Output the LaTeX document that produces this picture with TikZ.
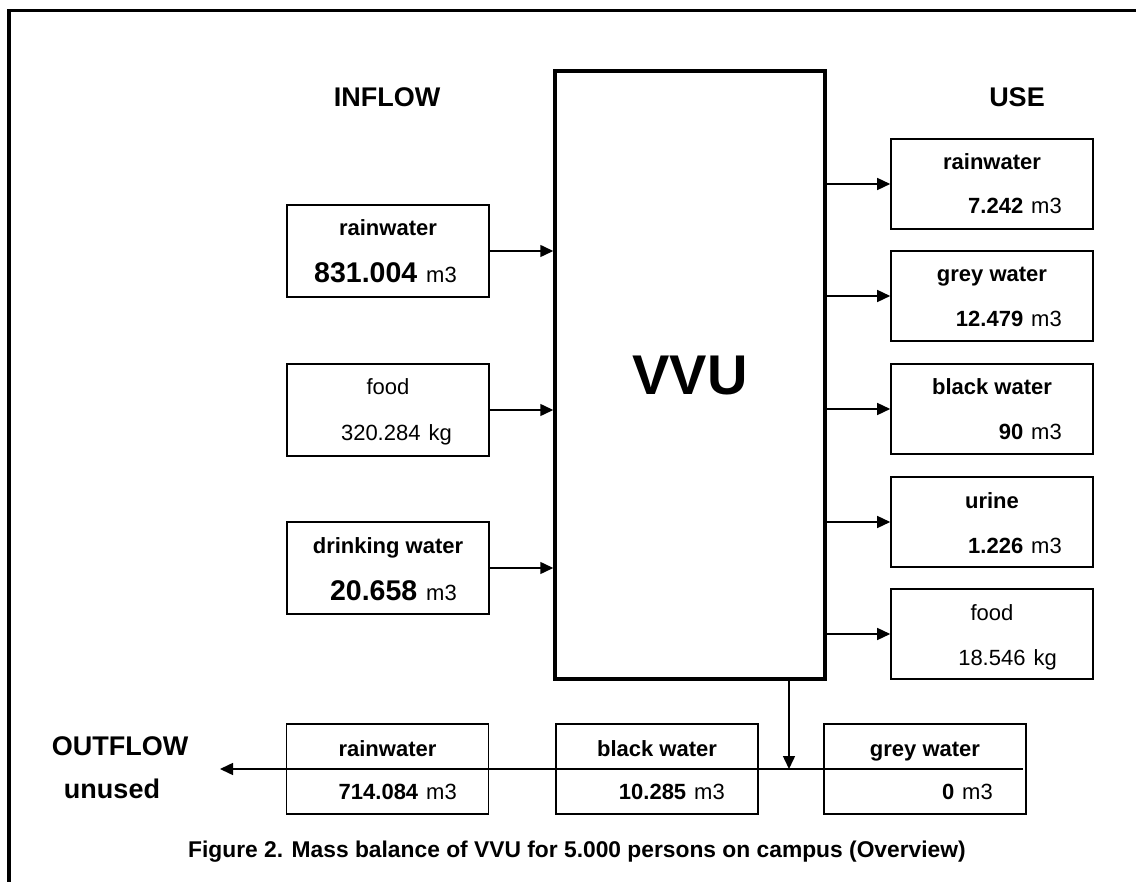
\documentclass[tikz,border=0pt]{standalone}
\usepackage{fontspec}
\setmainfont{Liberation Sans}
\usetikzlibrary{arrows.meta}
\newcommand\szA{\fontsize{22}{26}\selectfont}
\newcommand\szB{\fontsize{28.5}{32}\selectfont}
\newcommand\szH{\fontsize{27}{31}\selectfont}
\begin{document}
\begin{tikzpicture}[x=1pt,y=-1pt,
  box/.style={draw, line width=1.6pt, minimum width=202pt, inner sep=0pt},
  ttl/.style={inner sep=0pt, anchor=base, font=\szA\bfseries},
  ttr/.style={inner sep=0pt, anchor=base, font=\szA},
  val/.style={inner sep=0pt, anchor=base east, font=\szA},
  head/.style={inner sep=0pt, anchor=base, font=\szH\bfseries},
  flow/.style={line width=1.5pt, -{Triangle[length=13pt,width=12pt]}}]
\useasboundingbox (0,0) rectangle (1136,882);
% frame
\draw[line width=3.3pt, line join=miter] (9,884) -- (9,10.8) -- (1138,10.8);
% central box
\node[draw, line width=3.5pt, minimum width=270pt, minimum height=608pt, inner sep=0pt] (vvu) at (690,375) {};
\node[inner sep=0pt, anchor=base, font=\fontsize{56}{60}\selectfont\bfseries] (vvuT) at (690,395) {VVU};
% headings
\node[head] (inflow) at (387,107) {INFLOW};
\node[head] (use) at (1017,107) {USE};
\node[head] (outflow) at (120,755) {OUTFLOW};
\node[head] (unused) at (112,798) {unused};
% inflow boxes
\node[box, minimum height=92pt] (inrain) at (388,251) {};
\node[ttl] (inrainT) at (388,236) {rainwater};
\node[val] (inrainV) at (457,283) {\szB\bfseries 831.004\hspace{9pt}\szA\mdseries m3};
\node[box, minimum height=92pt] (infood) at (388,410) {};
\node[ttr] (infoodT) at (388,395) {food};
\node[val] (infoodV) at (452,441) {320.284\hspace{8pt}kg};
\node[box, minimum height=92pt] (indrink) at (388,568) {};
\node[ttl] (indrinkT) at (388,553) {drinking water};
\node[val] (indrinkV) at (457,600) {\szB\bfseries 20.658\hspace{9pt}\szA\mdseries m3};
\foreach \n in {inrain,infood,indrink}
  \draw[flow] (\n.east) -- (\n.east -| vvu.west);
% use boxes
\node[box, minimum height=90pt] (urain) at (992,184) {};
\node[ttl] (urainT) at (992,170) {rainwater};
\node[val] (urainV) at (1062,214) {\bfseries 7.242\hspace{8pt}\mdseries m3};
\node[box, minimum height=90pt] (ugrey) at (992,296) {};
\node[ttl] (ugreyT) at (992,282) {grey water};
\node[val] (ugreyV) at (1062,327) {\bfseries 12.479\hspace{8pt}\mdseries m3};
\node[box, minimum height=90pt] (ublack) at (992,409) {};
\node[ttl] (ublackT) at (992,395) {black water};
\node[val] (ublackV) at (1062,440) {\bfseries 90\hspace{8pt}\mdseries m3};
\node[box, minimum height=90pt] (uurine) at (992,522) {};
\node[ttl] (uurineT) at (992,508) {urine};
\node[val] (uurineV) at (1062,553) {\bfseries 1.226\hspace{8pt}\mdseries m3};
\node[box, minimum height=90pt] (ufood) at (992,634) {};
\node[ttr] (ufoodT) at (992,620) {food};
\node[val] (ufoodV) at (1057,665) {18.546\hspace{8pt}kg};
\foreach \n in {urain,ugrey,ublack,uurine,ufood}
  \draw[flow] (\n.west -| vvu.east) -- (\n.west);
% outflow boxes
\node[box, minimum height=90pt] (orain) at (387.5,769) {};
\node[ttl] (orainT) at (387.5,756) {rainwater};
\node[val] (orainV) at (457,799) {\bfseries 714.084\hspace{8pt}\mdseries m3};
\node[box, minimum height=90pt] (oblack) at (657,769) {};
\node[ttl] (oblackT) at (657,756) {black water};
\node[val] (oblackV) at (725,799) {\bfseries 10.285\hspace{8pt}\mdseries m3};
\node[box, minimum height=90pt] (ogrey) at (925,769) {};
\node[ttl] (ogreyT) at (925,756) {grey water};
\node[val] (ogreyV) at (993,799) {\bfseries 0\hspace{8pt}\mdseries m3};
\coordinate (outR) at (1023,769);
\coordinate (outL) at (220,769);
\coordinate (join) at (789,769);
\draw[flow] (outR) -- (outL);
\draw[flow] (vvu.south -| join) -- (join);
% caption
\node[inner sep=0pt, anchor=base, font=\fontsize{22.8}{26}\selectfont\bfseries] (caption) at (577,857) {Figure 2. Mass balance of VVU for 5.000 persons on campus (Overview)};
\end{tikzpicture}
\end{document}
